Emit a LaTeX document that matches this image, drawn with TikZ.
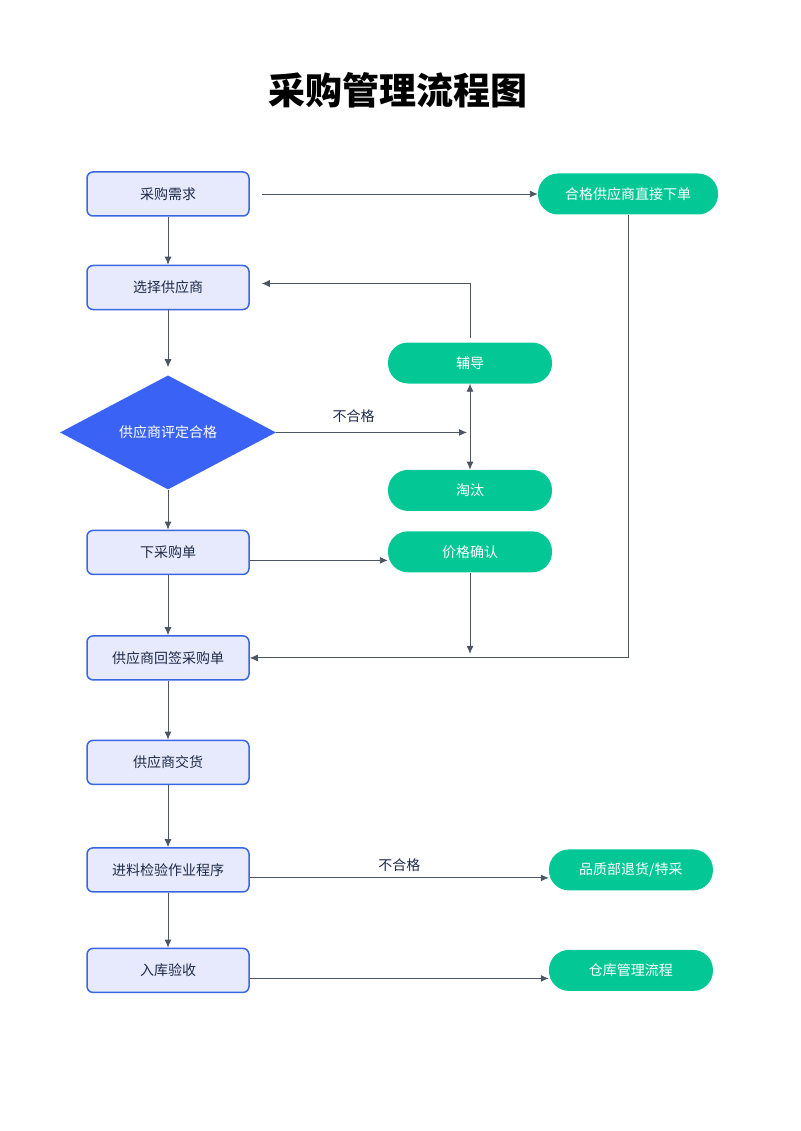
\documentclass[tikz,border=0pt]{standalone}
\usepackage{fontspec}
\setmainfont{Noto Sans CJK SC}
\usepackage{xcolor}
\usepackage{tikz}
\usetikzlibrary{shapes.geometric,arrows.meta,positioning}

\definecolor{boxfill}{HTML}{E6EAFC}
\definecolor{boxline}{HTML}{3A66E0}
\definecolor{diafill}{HTML}{3A63F6}
\definecolor{pillfill}{HTML}{03C895}
\definecolor{linegray}{HTML}{6B7280}
\definecolor{tipgray}{HTML}{4B5563}
\definecolor{navytext}{HTML}{1E2A4A}

\begin{document}
\begin{tikzpicture}[
    x=1pt, y=-1pt,
    node distance=50pt,
    font=\fontsize{14}{16}\selectfont,
    box/.style={rectangle, draw=boxline, line width=1.5pt, fill=boxfill, text=navytext, minimum width=162pt, minimum height=44pt, rounded corners=6pt},
    pill/.style={rectangle, fill=pillfill, text=white, minimum width=164pt, minimum height=41pt, rounded corners=20pt},
    decision/.style={diamond, fill=diafill, text=white, minimum width=216pt, minimum height=114pt, inner sep=0pt},
    arrow/.style={-{Latex[length=8pt,width=7pt]}, draw=linegray, line width=0.9pt, tipgray},
    label/.style={text=navytext}
]
\useasboundingbox (0,0) rectangle (800,1131);

% Title
\node[font=\fontsize{37}{40}\selectfont\bfseries] (title) at (398,90) {采购管理流程图};

% Main column
\node[box] (req) at (168,194) {采购需求};
\node[box, below=48pt of req] (select) {选择供应商};
\node[decision, below=65pt of select] (eval) {供应商评定合格};
\node[box, below=40pt of eval] (order) {下采购单};
\node[box, below=60pt of order] (sign) {供应商回签采购单};
\node[box, below=59pt of sign] (deliver) {供应商交货};
\node[box, below=62pt of deliver] (inspect) {进料检验作业程序};
\node[box, below=55pt of inspect] (store) {入库验收};

% Side steps
\node[pill, minimum width=180pt] (direct) at (628,194) {合格供应商直接下单};
\node[pill] (coach) at (470,363) {辅导};
\node[pill, below=86pt of coach] (drop) {淘汰};
\node[pill, below=20pt of drop] (price) {价格确认};
\node[pill, right=299pt of inspect] (reject) {品质部退货/特采};
\node[pill, right=299pt of store] (warehouse) {仓库管理流程};

% Free ends
\coordinate (fork) at (eval.east -| coach.south);
\coordinate (priceend) at ([yshift=4pt]price.south |- sign.east);

% Arrows
\draw[arrow, shorten <=12pt] (req.east) -- (direct.west);
\draw[arrow] (req) -- (select);
\draw[arrow, shorten >=12pt] ([yshift=4pt]coach.north) |- ([yshift=4pt]select.east);
\draw[arrow, shorten >=8pt] (select) -- (eval);
\draw[arrow, shorten >=3pt] (eval.east) -- node[label, above=6pt, pos=0.4] {不合格} (fork);
\draw[arrow, {Latex[length=8pt,width=7pt]}-{Latex[length=8pt,width=7pt]}] (coach) -- (drop);
\draw[arrow] (eval.south) -- (order.north);
\draw[arrow] ([yshift=-8pt]order.east) -- ([yshift=-8pt]order.east -| price.west);
\draw[arrow] (price.south) -- (priceend);
\draw[arrow] (direct.south) |- (sign.east);
\draw[arrow] (order) -- (sign);
\draw[arrow] (sign) -- (deliver);
\draw[arrow] (deliver) -- (inspect);
\draw[arrow] ([yshift=-8pt]inspect.east) -- node[label, above=2pt] {不合格} ([yshift=-8pt]inspect.east -| reject.west);
\draw[arrow] (inspect) -- (store);
\draw[arrow] ([yshift=-8pt]store.east) -- ([yshift=-8pt]store.east -| warehouse.west);

\end{tikzpicture}
\end{document}
